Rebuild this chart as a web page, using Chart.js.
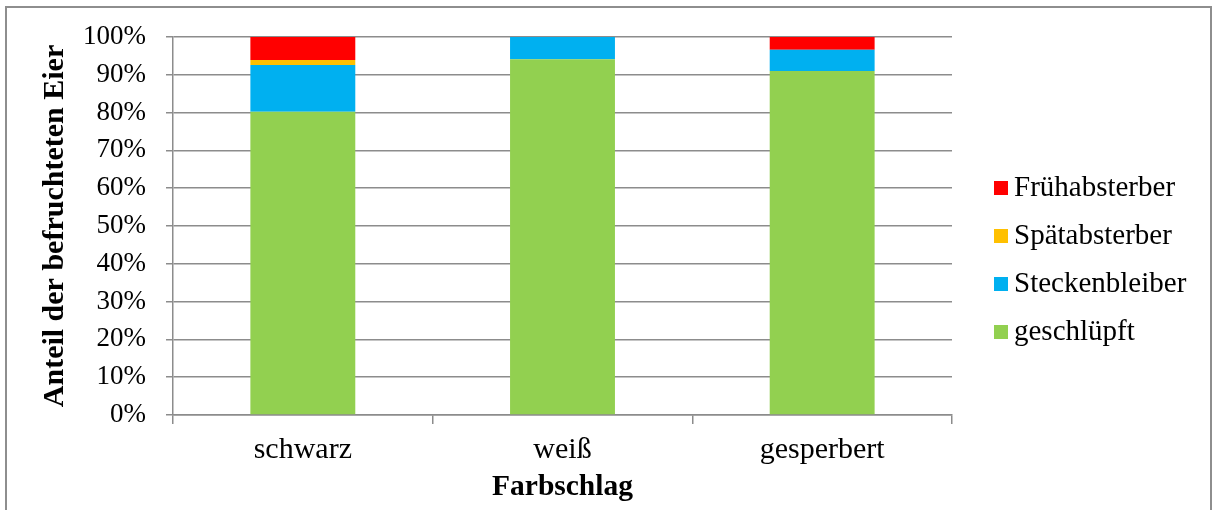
<!DOCTYPE html>
<html lang="de">
<head>
<meta charset="utf-8">
<title>Farbschlag – Anteil der befruchteten Eier</title>
<script src="https://cdn.jsdelivr.net/npm/chart.js@4.4.1/dist/chart.umd.min.js"></script>
<style>
  html, body { margin: 0; padding: 0; background: #fff; overflow: hidden; }
  #wrap { position: relative; width: 1216px; height: 510px; }
  #frame {
    position: absolute; left: 5px; top: 6px; width: 1207px; height: 600px;
    border: 2px solid #8e8e8e; box-sizing: border-box; pointer-events: none;
  }
  canvas { position: absolute; left: 0; top: 0; }
</style>
</head>
<body>
<div id="wrap">
  <canvas id="chart" width="1216" height="510"></canvas>
  <div id="frame"></div>
</div>
<script>
// Farbschläge (x-axis categories)
const categories = ['schwarz', 'weiß', 'gesperbert'];

// Share of fertilised eggs per outcome, in percent
const geschluepft     = [80.2, 94.1, 91.0];
const steckenbleiber  = [12.4, 5.9, 5.6];
const spaetabsterber  = [1.3, 0, 0];
const fruehabsterber  = [6.1, 0, 3.4];

// y-axis ticks
const yTicks = [0, 10, 20, 30, 40, 50, 60, 70, 80, 90, 100];

const FONT = "'Liberation Serif', 'Times New Roman', serif";
const GRID = '#8c8c8c';

const datasets = [
  { label: 'geschlüpft',     data: geschluepft,    backgroundColor: '#92D050' },
  { label: 'Steckenbleiber', data: steckenbleiber, backgroundColor: '#00B0F0' },
  { label: 'Spätabsterber',  data: spaetabsterber, backgroundColor: '#FFC000' },
  { label: 'Frühabsterber',  data: fruehabsterber, backgroundColor: '#FF0000' }
].map(d => Object.assign(d, {
  borderWidth: 0,
  categoryPercentage: 1.0,
  barPercentage: 0.404
}));

// Vertical legend on the right, top entry = top of the stack
const sideLegend = {
  id: 'sideLegend',
  afterDraw(chart) {
    const { ctx, chartArea } = chart;
    const x0 = chartArea.right + 42;
    const y0 = 188;
    const step = 48;
    const box = 14;
    ctx.save();
    ctx.font = '29px ' + FONT;
    ctx.textBaseline = 'middle';
    ctx.textAlign = 'left';
    const list = chart.data.datasets.slice().reverse();
    list.forEach((ds, k) => {
      const y = y0 + k * step;
      ctx.fillStyle = ds.backgroundColor;
      ctx.fillRect(x0, y - box / 2, box, box);
      ctx.fillStyle = '#000';
      ctx.fillText(ds.label, x0 + box + 6, y);
    });
    ctx.restore();
  }
};

new Chart(document.getElementById('chart'), {
  type: 'bar',
  data: { labels: categories, datasets },
  options: {
    responsive: false,
    animation: false,
    devicePixelRatio: 1,
    layout: { padding: { top: 37, right: 264, bottom: 0, left: 0 } },
    plugins: {
      legend: { display: false },
      tooltip: { enabled: false }
    },
    scales: {
      x: {
        stacked: true,
        offset: true,
        afterFit(scale) { scale.height = 95; },
        grid: {
          offset: true,
          drawOnChartArea: false,
          drawTicks: true,
          tickLength: 9,
          color: GRID,
          lineWidth: 1.5
        },
        border: { display: true, color: GRID, width: 1.5 },
        ticks: {
          color: '#000',
          padding: 8,
          font: { family: FONT, size: 30 }
        },
        title: {
          display: true,
          text: 'Farbschlag',
          color: '#000',
          font: { family: FONT, size: 29.5, weight: 'bold' },
          padding: { top: 0, bottom: 5 }
        }
      },
      y: {
        stacked: true,
        min: 0,
        max: 100,
        afterFit(scale) { scale.width = 173; },
        afterBuildTicks(scale) { scale.ticks = yTicks.map(v => ({ value: v })); },
        grid: {
          color: GRID,
          lineWidth: 1.5,
          drawTicks: true,
          tickLength: 7
        },
        border: { display: true, color: GRID, width: 1.5 },
        ticks: {
          color: '#000',
          padding: 20,
          font: { family: FONT, size: 27 },
          callback: v => v + '%'
        },
        title: {
          display: true,
          text: 'Anteil der befruchteten Eier',
          color: '#000',
          font: { family: FONT, size: 30, weight: 'bold' },
          padding: { top: 37, bottom: 0 }
        }
      }
    }
  },
  plugins: [sideLegend]
});
</script>
</body>
</html>
